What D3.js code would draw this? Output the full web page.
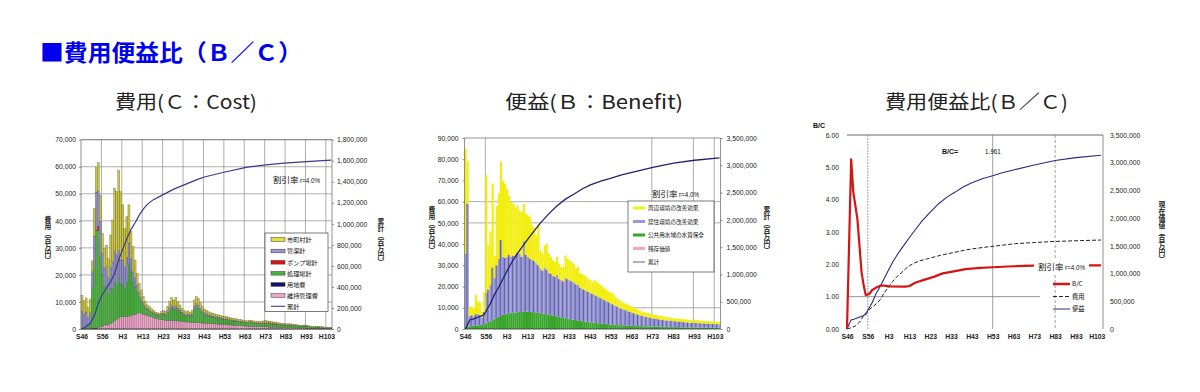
<!DOCTYPE html>
<html><head><meta charset="utf-8">
<script src="https://cdn.jsdelivr.net/npm/d3@7"></script>
<style>
body{margin:0;background:#fff}
svg{display:block}
</style>
</head><body><svg id="c" width="1200" height="392"></svg>
<script>
// ---------- categories / ticks ----------
const years = d3.range(1971, 2094);
const tickYears = [1971,1981,1991,2001,2011,2021,2031,2041,2051,2061,2071,2081,2091];
const tickLabels = ["S46","S56","H3","H13","H23","H33","H43","H53","H63","H73","H83","H93","H103"];

// ---------- Cost (百万円) ----------
const costMaint = [0,0,0,0,0,0,0,0,500,800,
1000,1500,1500,1500,2000,2500,3000,3500,4000,4500,
4500,4500,4500,4800,5000,5200,5500,5800,6000,5800,
5500,5200,5000,4800,4500,4300,4000,3800,3600,3500,
3400,3300,3200,3200,3100,3100,3000,3000,2900,2800,
2700,2600,2600,2500,2500,2400,2400,2300,2300,2200,
2200,2100,2100,2000,2000,1900,1900,1800,1800,1700,
1600,1600,1500,1500,1400,1400,1300,1300,1200,1200,
1100,1100,1000,1000,1000,900,900,900,800,800,
800,800,700,700,700,700,600,600,600,600,
500,500,500,500,500,400,400,400,400,400,
300,300,300,300,300,300,300,200,200,200,
200,200,200];
const costPlant = [500,500,800,800,1500,15000,22000,36000,36000,26000,
19000,14000,14500,11500,13000,12500,14000,13000,15000,12000,
12000,10500,13000,19000,16000,12000,10000,8000,6000,4500,
3500,2700,2200,2000,1600,1500,1300,1300,1300,1700,
2000,1900,3000,4000,4600,4200,4600,3900,3400,2800,
2400,2200,2400,2200,2600,5000,5800,5400,4500,3800,
3200,3000,2700,2500,2400,2300,2200,2100,2000,1900,
1800,1800,1700,1600,1500,1500,1500,1400,1400,1300,
1300,1200,1400,1300,1200,1200,1100,1100,1200,1300,
1300,1300,1300,1200,1100,1100,1000,1000,900,900,
900,900,900,800,800,800,700,700,700,700,
700,600,600,500,500,400,400,400,400,300,
300,300,300];
const costPipe = [6000,5000,5500,3500,4500,6000,12000,14000,13000,13000,
8000,7000,7000,6000,8000,10000,12000,11000,10000,9000,
9000,8000,9000,8000,5000,4000,3500,2500,1500,1200,
900,700,500,400,400,300,300,300,300,400,
400,400,600,800,1000,900,1000,800,700,600,
500,500,500,500,600,1000,1100,1100,900,700,
600,500,500,500,400,400,400,400,400,400,
300,300,300,300,300,300,300,200,200,200,
200,200,300,300,200,200,200,200,200,200,
300,200,200,200,200,200,200,100,100,100,
100,100,100,100,100,100,100,100,100,100,
100,100,0,0,0,0,0,0,0,0,
0,0,0];
const costCity = [6000,5000,5200,3700,5000,4000,10300,9100,10500,9700,
7400,7300,8000,7000,11800,15300,23000,23300,29800,25300,
20400,14200,15000,14100,10000,9300,6500,4300,3400,2900,
2100,1500,1200,1100,1000,900,700,600,600,800,
1000,900,1500,2100,2900,2500,3100,2400,1900,1400,
1200,1100,1200,1000,1200,2300,2700,2500,2000,1600,
1300,1200,1100,1000,1000,1000,900,900,800,800,
800,900,800,700,700,600,600,600,600,500,
500,500,600,600,600,600,600,500,600,700,
700,700,700,600,600,500,500,500,500,400,
400,400,500,400,300,300,300,200,200,300,
200,200,200,200,200,200,200,200,200,200,
200,100,100];
const pumpYears = [1978,1979];
const pumpValues = [300,1500];
const landYears = [1976,1977,1978];
const landValues = [200,300,300];
// cumulative cost (present value)
const cumCostYears = [1971,1973,1975,1977,1979,1981,1983,1985,1987,1989,1991,1993,1995,1997,1999,2001,2003,2006,2011,2016,2021,2028,2031,2040,2052,2061,2070,2081,2093];
const cumCostValues = [0,23000,54000,123000,244000,330000,390000,450000,530000,660000,760000,860000,945000,1010000,1080000,1140000,1185000,1230000,1280000,1330000,1370000,1425000,1445000,1488000,1540000,1560000,1578000,1592000,1605000];

// ---------- Benefit (百万円) ----------
const benWater = [1000,1200,1300,1400,1500,1600,1700,1800,1900,2000,
3000,3300,3700,4200,4700,5200,5700,6200,6600,7000,
7200,7400,7600,7700,7800,7900,8000,8000,8100,8100,
8100,8000,8000,7900,7800,7600,7500,7300,7100,6900,
6700,6500,6300,6100,5900,5700,5500,5300,5100,4900,
4700,4500,4300,4200,4000,3800,3700,3500,3400,3300,
3100,3000,2900,2800,2700,2600,2500,2400,2300,2200,
2100,2000,2000,1900,1800,1800,1700,1700,1600,1600,
1500,1500,1400,1400,1400,1300,1300,1300,1200,1200,
1200,1100,1100,1100,1000,1000,1000,1000,900,900,
900,900,900,800,800,800,800,800,700,700,
700,700,700,600,600,600,600,600,600,600,
600,600,600];
const benLiving = [34500,57800,4700,5100,4500,5400,5300,4700,3600,6000,
14000,15200,17300,24800,19300,24800,27300,35800,27400,26500,
26800,27600,26400,26800,27200,28100,27500,26000,33400,26900,
25900,25000,24500,24100,23200,22400,21000,20200,21900,21100,
19800,19500,18700,18400,19600,17800,17500,17200,18900,18600,
18300,18000,17700,16800,17000,15700,15300,15000,14600,14200,
13900,13500,13100,12700,12300,11900,11500,11100,10700,10300,
9900,9500,9000,8600,8200,7700,7500,7100,6800,6400,
6200,5900,5600,5300,5000,4800,4600,4400,4200,4000,
3800,3700,3600,3400,3400,3200,3100,3000,3000,2900,
2800,2700,2600,2600,2500,2400,2300,2200,2300,2200,
2200,2100,2000,2100,2000,2000,1900,1900,1800,1800,
1700,1700,1600];
const benSurround = [49500,20300,4500,4000,4000,9200,6000,6000,2500,9500,
55500,21000,25000,39500,10500,28000,31000,37000,36000,35000,
32000,28000,25800,24500,22400,22200,20400,21100,17500,19300,
19500,19700,16300,16000,13100,19600,8600,8000,10400,12200,
9000,8000,7400,7100,8500,7300,6300,6800,10700,9700,
9400,9100,8800,7500,8300,6600,7100,6900,6600,6300,
6000,5700,7000,6700,6400,6200,5900,5600,5300,5000,
5100,5200,4200,3900,3600,3300,3200,3200,2900,3000,
2800,2600,2700,2200,2200,2000,2000,2000,2000,1800,
1800,1800,1700,1800,1700,1800,1700,1600,1600,1500,
1400,1400,1400,1400,1400,1400,1400,1400,1300,1300,
1300,1400,1400,1300,1300,1200,1300,1200,1200,1100,
1200,1100,1200];
const residualYears = [2093];
const residualValues = [200];
const cumBenYears = [1971,1972,1973,1975,1977,1979,1980,1981,1983,1985,1987,1989,1991,1993,1995,1997,1999,2001,2004,2007,2011,2015,2019,2023,2027,2031,2036,2041,2046,2051,2061,2071,2081,2093];
const cumBenValues = [0,85000,165000,185000,215000,245000,265000,340000,470000,640000,770000,920000,1070000,1210000,1330000,1440000,1545000,1650000,1800000,1945000,2110000,2260000,2380000,2470000,2565000,2640000,2710000,2765000,2825000,2870000,2960000,3040000,3092000,3135000];

// ---------- B/C ----------
const bcYears = [1971,1973,1974,1976,1978,1979,1980,1981,1982,1983,1985,1987,1989,1991,1999,2001,2004,2008,2013,2017,2023,2028,2035,2041,2051,2060,2071,2081,2093];
const bcValues = [0,5.25,4.25,3.4,1.75,1.35,1.05,1.07,1.1,1.2,1.28,1.34,1.34,1.32,1.31,1.33,1.44,1.52,1.62,1.72,1.79,1.85,1.89,1.91,1.94,1.96,1.96,1.97,1.97];

// ---------- helpers ----------
const svg = d3.select("#c");
const JP = '"Noto Sans CJK JP","Noto Sans CJK SC",sans-serif';
const LAT = '"Liberation Sans",Arial,sans-serif';
const gridC = "#8a8a8a";

function txt(x, y, s, size, opts = {}) {
  const t = svg.append("text").attr("x", x).attr("y", y).text(s)
    .style("font-family", opts.font || JP).style("font-size", size + "px")
    .attr("fill", opts.fill || "#222");
  if (opts.anchor) t.attr("text-anchor", opts.anchor);
  if (opts.weight) t.style("font-weight", opts.weight);
  if (opts.len) t.attr("textLength", opts.len).attr("lengthAdjust", "spacingAndGlyphs");
  return t;
}
// vertical Japanese axis title (vertical writing mode, full-width brackets turn automatically)
function vtxt(x, yc, s, size) {
  return svg.append("text").attr("x", x).attr("y", yc).text(s)
    .attr("text-anchor", "middle")
    .style("writing-mode", "vertical-rl")
    .style("font-family", JP).style("font-size", size + "px")
    .style("font-weight", "bold").attr("fill", "#222");
}
function styleAxis(g) {
  g.select(".domain").remove();
  g.selectAll("text").style("font-family", LAT).style("font-size", "6.8px").attr("fill", "#222");
  g.selectAll("line").attr("stroke", "#444").attr("stroke-width", 0.6);
}

// ---------- Titles ----------
txt(40, 61, "■費用便益比（Ｂ／Ｃ）", 23, {fill: "#0000ee", weight: "bold", len: 262});
txt(115, 109, "費用(Ｃ：Cost)", 19, {fill: "#222", len: 142});
txt(505, 109, "便益(Ｂ：Benefit)", 19, {fill: "#222", len: 178});
txt(885, 109, "費用便益比(Ｂ／Ｃ)", 19, {fill: "#222", len: 183});

// ================= Panel 1: Cost =================
{
  const L = 81, R = 332, T = 139.7, B = 329;
  const x = d3.scaleBand().domain(years).range([L, R]).padding(0);
  const y = d3.scaleLinear().domain([0, 70000]).range([B, T]);
  const yr = d3.scaleLinear().domain([0, 1800000]).range([B, T]);
  const g = svg.append("g");
  g.selectAll("line.h").data(y.ticks(7)).join("line")
    .attr("x1", L).attr("x2", R).attr("y1", d => y(d)).attr("y2", d => y(d))
    .attr("stroke", gridC).attr("stroke-width", 0.7);
  g.selectAll("line.v").data(tickYears.slice(1)).join("line")
    .attr("x1", d => x(d)).attr("x2", d => x(d)).attr("y1", T).attr("y2", B)
    .attr("stroke", gridC).attr("stroke-width", 0.7);

  const keys = ["maint", "land", "plant", "pump", "pipe", "city"];
  const colors = {maint: "#f2a2cc", land: "#101070", plant: "#46b43c", pump: "#e41010", pipe: "#8c8ccc", city: "#cbc43e"};
  const rows = years.map((yy, i) => ({
    year: yy, maint: costMaint[i],
    land: landYears.includes(yy) ? landValues[landYears.indexOf(yy)] : 0,
    plant: costPlant[i],
    pump: pumpYears.includes(yy) ? pumpValues[pumpYears.indexOf(yy)] : 0,
    pipe: costPipe[i], city: costCity[i]
  }));
  const st = d3.stack().keys(keys)(rows);
  g.selectAll("g.s").data(st).join("g").attr("fill", d => colors[d.key])
    .selectAll("rect").data(d => d).join("rect")
    .attr("x", d => x(d.data.year)).attr("width", x.bandwidth())
    .attr("y", d => y(d[1])).attr("height", d => Math.max(0, y(d[0]) - y(d[1])))
    .attr("stroke", "#3a3a2a").attr("stroke-width", 0.3).attr("stroke-opacity", 0.8);

  const line = d3.line().x(d => x(d[0]) + x.bandwidth() / 2).y(d => yr(d[1]));
  g.append("path").datum(cumCostYears.map((yy, i) => [yy, cumCostValues[i]]))
    .attr("d", line).attr("fill", "none").attr("stroke", "#3a3a8e").attr("stroke-width", 1.2);

  g.append("path").attr("d", `M${L},${B}V${T}H${R}V${B}`).attr("fill", "none").attr("stroke", "#777").attr("stroke-width", 0.8);
  g.append("line").attr("x1", L).attr("x2", R).attr("y1", B).attr("y2", B).attr("stroke", "#333").attr("stroke-width", 0.8);

  const al = svg.append("g").attr("transform", `translate(${L},0)`)
    .call(d3.axisLeft(y).ticks(7).tickFormat(d3.format(",")).tickSize(2).tickPadding(3));
  styleAxis(al);
  const ar = svg.append("g").attr("transform", `translate(${R},0)`)
    .call(d3.axisRight(yr).tickValues(d3.range(0, 1800001, 200000)).tickFormat(d3.format(",")).tickSize(2).tickPadding(3));
  styleAxis(ar);
  const ab = svg.append("g").attr("transform", `translate(0,${B})`)
    .call(d3.axisBottom(x).tickValues(tickYears).tickFormat((d, i) => tickLabels[i]).tickSize(0).tickPadding(5));
  styleAxis(ab);
  ab.selectAll("text").style("font-weight", "bold");

  vtxt(48, 240, "費用（百万円）", 6.8);
  vtxt(381, 242, "累計（百万円）", 6.8);

  const lg = svg.append("g");
  lg.append("rect").attr("x", 265).attr("y", 233).attr("width", 63).attr("height", 78.5)
    .attr("fill", "#fff").attr("stroke", "#444").attr("stroke-width", 0.7);
  const items = [["市町村計", "#e6de3a"], ["管渠計", "#9a9ad6"], ["ポンプ場計", "#e41010"], ["処理場計", "#46b43c"], ["用地費", "#101070"], ["維持管理費", "#f2a2cc"], ["累計", "#4a4a9e"]];
  const ly = [239.5, 251, 262.3, 273.3, 284.5, 295.5, 306.3];
  items.forEach((it, i) => {
    if (i < 6) lg.append("rect").attr("x", 271).attr("y", ly[i] - 1.8).attr("width", 14).attr("height", 3.6)
      .attr("fill", it[1]).attr("stroke", "#333").attr("stroke-width", 0.5);
    else lg.append("line").attr("x1", 271).attr("x2", 285).attr("y1", ly[i]).attr("y2", ly[i]).attr("stroke", it[1]).attr("stroke-width", 1.2);
    txt(287, ly[i] + 2.2, it[0], 6.2, {fill: "#111"});
  });
  txt(273, 183, "割引率", 8.5, {fill: "#111"});
  txt(300, 183, "r=4.0%", 6.3, {font: LAT, fill: "#111"});
}

// ================= Panel 2: Benefit =================
{
  const L = 464.5, R = 720.5, T = 138, B = 329;
  const x = d3.scaleBand().domain(years).range([L, R]).padding(0);
  const y = d3.scaleLinear().domain([0, 90000]).range([B, T]);
  const yr = d3.scaleLinear().domain([0, 3500000]).range([B, T]);
  const g = svg.append("g");
  [60000, 50000].forEach(v => g.append("line").attr("x1", L).attr("x2", R).attr("y1", y(v)).attr("y2", y(v)).attr("stroke", gridC).attr("stroke-width", 0.7));
  g.append("line").attr("x1", x(2051)).attr("x2", R).attr("y1", y(10000)).attr("y2", y(10000)).attr("stroke", gridC).attr("stroke-width", 0.7);
  [1981, 2061, 2081, 2091].forEach(v => g.append("line").attr("x1", x(v)).attr("x2", x(v)).attr("y1", T).attr("y2", B).attr("stroke", gridC).attr("stroke-width", 0.7));

  const keys = ["water", "living", "surround"];
  const colors = {water: "#3aa52c", living: "#9898d6", surround: "#f2ee10"};
  const rows = years.map((yy, i) => ({year: yy, water: benWater[i], living: benLiving[i], surround: benSurround[i]}));
  const st = d3.stack().keys(keys)(rows);
  g.selectAll("g.s").data(st).join("g").attr("fill", d => colors[d.key])
    .selectAll("rect").data(d => d).join("rect")
    .attr("x", d => x(d.data.year)).attr("width", x.bandwidth() + 0.1)
    .attr("y", d => y(d[1])).attr("height", d => Math.max(0, y(d[0]) - y(d[1])));
  g.selectAll("line.sep").data(st[1].filter((d, i) => i % 2 === 1)).join("line")
    .attr("x1", d => x(d.data.year) + 0.3).attr("x2", d => x(d.data.year) + 0.3)
    .attr("y1", d => y(d[1])).attr("y2", d => y(d[0]))
    .attr("stroke", "#2c2c7c").attr("stroke-width", 0.6);
  g.selectAll("rect.res").data(residualYears).join("rect")
    .attr("x", d => x(d)).attr("width", x.bandwidth()).attr("y", (d, i) => y(residualValues[i])).attr("height", (d, i) => B - y(residualValues[i]))
    .attr("fill", "#f2a2cc");

  const line = d3.line().x(d => x(d[0]) + x.bandwidth() / 2).y(d => yr(d[1]));
  g.append("path").datum(cumBenYears.map((yy, i) => [yy, cumBenValues[i]]))
    .attr("d", line).attr("fill", "none").attr("stroke", "#22226e").attr("stroke-width", 1.3);

  g.append("line").attr("x1", L).attr("x2", R).attr("y1", T).attr("y2", T).attr("stroke", "#777").attr("stroke-width", 0.8);
  g.append("line").attr("x1", L).attr("x2", L).attr("y1", T).attr("y2", B).attr("stroke", "#777").attr("stroke-width", 0.8);
  g.append("line").attr("x1", R).attr("x2", R).attr("y1", T).attr("y2", B).attr("stroke", "#777").attr("stroke-width", 0.8);
  g.append("line").attr("x1", L).attr("x2", R).attr("y1", B).attr("y2", B).attr("stroke", "#333").attr("stroke-width", 0.8);

  const al = svg.append("g").attr("transform", `translate(${L},0)`)
    .call(d3.axisLeft(y).ticks(9).tickFormat(d3.format(",")).tickSize(2).tickPadding(4));
  styleAxis(al);
  const ar = svg.append("g").attr("transform", `translate(${R},0)`)
    .call(d3.axisRight(yr).tickValues(d3.range(0, 3500001, 500000)).tickFormat(d3.format(",")).tickSize(2).tickPadding(4));
  styleAxis(ar);
  const ab = svg.append("g").attr("transform", `translate(0,${B})`)
    .call(d3.axisBottom(x).tickValues(tickYears).tickFormat((d, i) => tickLabels[i]).tickSize(0).tickPadding(5));
  styleAxis(ab);
  ab.selectAll("text").style("font-weight", "bold");

  vtxt(432, 230, "費用（百万円）", 6.8);
  vtxt(767, 230, "累計（百万円）", 6.8);

  const lg = svg.append("g");
  lg.append("rect").attr("x", 628).attr("y", 201).attr("width", 86).attr("height", 71)
    .attr("fill", "#fff").attr("stroke", "#444").attr("stroke-width", 0.7);
  const items = [["周辺環境の改善効果", "#f2ee10", 3], ["居住環境の改善効果", "#9898d6", 3], ["公共用水域の水質保全", "#3aa52c", 3], ["残存価値", "#f2a2cc", 3], ["累計", "#5a5aa8", 1]];
  const ly = [208, 221.5, 235, 248.5, 262];
  items.forEach((it, i) => {
    lg.append("line").attr("x1", 633).attr("x2", 645).attr("y1", ly[i]).attr("y2", ly[i]).attr("stroke", it[1]).attr("stroke-width", it[2]);
    txt(648, ly[i] + 2, it[0], 5.6, {fill: "#111"});
  });
  txt(652, 197, "割引率", 8.5, {fill: "#111"});
  txt(679, 197, "r=4.0%", 6.3, {font: LAT, fill: "#111"});
}

// ================= Panel 3: B/C =================
{
  const L = 847, R = 1103, T = 135, B = 329;
  const x = d3.scaleLinear().domain([1971, 2094]).range([L, R]);
  const y = d3.scaleLinear().domain([0, 6]).range([B, T]);
  const yr = d3.scaleLinear().domain([0, 3500000]).range([B, T]);
  const g = svg.append("g");
  g.append("line").attr("x1", L).attr("x2", R).attr("y1", T).attr("y2", T).attr("stroke", "#555").attr("stroke-width", 0.9);
  g.append("line").attr("x1", L).attr("x2", 1040).attr("y1", y(1)).attr("y2", y(1)).attr("stroke", "#777").attr("stroke-width", 0.8);
  [[1981, "2,1"], [2041, null], [2071, "3,2"]].forEach(([v, da]) => {
    const l = g.append("line").attr("x1", x(v)).attr("x2", x(v)).attr("y1", T).attr("y2", B)
      .attr("stroke", "#888").attr("stroke-width", 0.8);
    if (da) l.attr("stroke-dasharray", da);
  });
  g.append("line").attr("x1", R).attr("x2", R).attr("y1", T).attr("y2", B).attr("stroke", "#777").attr("stroke-width", 0.8);

  const lineR = d3.line().x(d => x(d[0])).y(d => yr(d[1]));
  g.append("path").datum(cumCostYears.map((yy, i) => [yy, cumCostValues[i]]))
    .attr("d", lineR).attr("fill", "none").attr("stroke", "#222").attr("stroke-width", 1).attr("stroke-dasharray", "4,2");
  g.append("path").datum(cumBenYears.map((yy, i) => [yy, cumBenValues[i]]))
    .attr("d", lineR).attr("fill", "none").attr("stroke", "#2a2a80").attr("stroke-width", 1.1);
  const lineL = d3.line().x(d => x(d[0])).y(d => y(d[1]));
  g.append("path").datum(bcYears.map((yy, i) => [yy, bcValues[i]]))
    .attr("d", lineL).attr("fill", "none").attr("stroke", "#d61414").attr("stroke-width", 2.2).attr("stroke-linejoin", "round");

  g.append("rect").attr("x", 1034).attr("y", 258).attr("width", 55).attr("height", 15).attr("fill", "#fff");
  txt(1038, 270, "割引率", 8.5, {fill: "#111"});
  txt(1065, 270, "r=4.0%", 6.3, {font: LAT, fill: "#111"});

  txt(942, 154, "B/C=", 7, {font: LAT, fill: "#111", weight: "bold"});
  txt(985, 154, "1.961", 6.3, {font: LAT, fill: "#111"});
  txt(813, 128, "B/C", 7, {font: LAT, fill: "#111", weight: "bold"});

  const al = svg.append("g").attr("transform", `translate(${L},0)`)
    .call(d3.axisLeft(y).tickValues([0, 1, 2, 3, 4, 5, 6]).tickFormat(d3.format(".2f")).tickSize(0).tickPadding(8));
  styleAxis(al);
  const ar = svg.append("g").attr("transform", `translate(${R},0)`)
    .call(d3.axisRight(yr).tickValues(d3.range(0, 3500001, 500000)).tickFormat(d3.format(",")).tickSize(0).tickPadding(7));
  styleAxis(ar);
  const ab = svg.append("g").attr("transform", `translate(0,${B})`)
    .call(d3.axisBottom(x).tickValues(tickYears).tickFormat((d, i) => tickLabels[i]).tickSize(0).tickPadding(5));
  styleAxis(ab);
  ab.selectAll("text").style("font-weight", "bold");

  vtxt(1162, 232, "現在価値（百万円）", 6.8);

  const items = [["B/C", "#d61414", 2.5, null], ["費用", "#222", 1, "4,2"], ["便益", "#2a2a80", 1, null]];
  const ly = [284, 296.5, 309];
  items.forEach((it, i) => {
    const l = svg.append("line").attr("x1", 1053).attr("x2", 1070).attr("y1", ly[i]).attr("y2", ly[i]).attr("stroke", it[1]).attr("stroke-width", it[2]);
    if (it[3]) l.attr("stroke-dasharray", it[3]);
    txt(1072, ly[i] + 2.2, it[0], 6.3, {fill: "#111"});
  });
}
</script>
</body></html>
